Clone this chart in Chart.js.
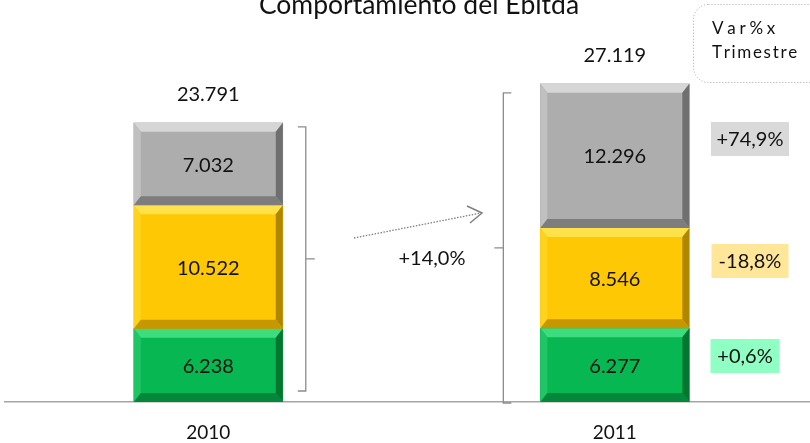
<!DOCTYPE html>
<html lang="es">
<head>
  <meta charset="UTF-8" />
  <title>Comportamiento del Ebitda</title>
  <script src="https://cdn.jsdelivr.net/npm/chart.js@4.4.1/dist/chart.umd.min.js"></script>
  <style>
    html,body{margin:0;padding:0;background:#fff;}
    #wrap{width:810px;height:443px;position:relative;}
  </style>
</head>
<body>
  <div id="wrap"><canvas id="chart"></canvas></div>

  <script>
    const years   = ['2010', '2011'];
    const green   = [6238, 6277];
    const yellow  = [10522, 8546];
    const grey    = [7032, 12296];
    const totals  = [23791, 27119];
    const varLbl  = ['+74,9%', '-18,8%', '+0,6%'];
    const growth  = '+14,0%';
    const title   = 'Comportamiento del Ebitda';

    const FONT = 'Lato, "Open Sans", sans-serif';
    const fmt = v => String(v).replace(/\B(?=(\d{3})+(?!\d))/g, '.');

    // bevel shades per dataset: [top, left, right, bottom]
    const bevel = [
      ['#3ddc7e', '#20c666', '#04762f', '#05873b'],
      ['#ffe24a', '#ffd21e', '#b08600', '#c69700'],
      ['#d6d6d6', '#c0c0c0', '#6f6f6f', '#7d7d7d']
    ];

    function bracket(ctx, x, y0, y1, dir){
      // dir 1 = opens to left (tick points right), -1 = opens right
      const h = 8*dir, mid = (y0+y1)/2;
      ctx.beginPath();
      ctx.moveTo(x-h, y0); ctx.lineTo(x, y0); ctx.lineTo(x, y1); ctx.lineTo(x-h, y1);
      ctx.moveTo(x, mid); ctx.lineTo(x+9*dir, mid);
      ctx.stroke();
    }

    function tagBox(ctx, txt, cx, cy, w, bg){
      ctx.fillStyle = bg;
      ctx.fillRect(cx-w/2, cy-17, w, 34);
      ctx.fillStyle = '#111';
      ctx.fillText(txt, cx, cy+1);
    }

    // letter-spaced text stretched to a given width
    function spaced(ctx, txt, x, y, w){
      const chars = [...txt];
      const sp = (w - ctx.measureText(txt).width) / (chars.length - 1);
      for(const ch of chars){ ctx.fillText(ch, x, y); x += ctx.measureText(ch).width + sp; }
    }

    const decor = {
      id:'decor',
      afterDatasetsDraw(chart){
        const ctx = chart.ctx;
        ctx.save();
        // bevels
        chart.data.datasets.forEach((ds, di) => {
          chart.getDatasetMeta(di).data.forEach(el => {
            const x0 = el.x - el.width/2, x1 = el.x + el.width/2;
            const t = Math.min(el.y, el.base), b = Math.max(el.y, el.base);
            const d = 9, s = 7;
            const [cT, cL, cR, cB] = bevel[di];
            const poly = (pts, c) => {
              ctx.fillStyle = c; ctx.beginPath();
              pts.forEach((p, i) => i ? ctx.lineTo(p[0], p[1]) : ctx.moveTo(p[0], p[1]));
              ctx.closePath(); ctx.fill();
            };
            poly([[x0,t],[x1,t],[x1-s,t+d],[x0+s,t+d]], cT);
            poly([[x0,t],[x0+s,t+d],[x0+s,b-d],[x0,b]], cL);
            poly([[x1,t],[x1,b],[x1-s,b-d],[x1-s,t+d]], cR);
            poly([[x0,b],[x1,b],[x1-s,b-d],[x0+s,b-d]], cB);
          });
        });

        // segment values
        ctx.font = '20px ' + FONT;
        ctx.textAlign = 'center';
        ctx.textBaseline = 'middle';
        ctx.fillStyle = '#111';
        chart.data.datasets.forEach((ds, di) => {
          chart.getDatasetMeta(di).data.forEach((el, i) => {
            ctx.fillText(fmt(ds.data[i].y), el.x, (el.y + el.base)/2 + 1);
          });
        });

        // totals
        const topMeta = chart.getDatasetMeta(2).data;
        totals.forEach((tot, i) => {
          ctx.fillText(fmt(tot), topMeta[i].x, topMeta[i].y - 28);
        });

        // brackets
        ctx.strokeStyle = '#8c8c8c';
        ctx.lineWidth = 1.3;
        const a = topMeta[0], bb = topMeta[1];
        const base = chart.scales.y.getPixelForValue(0);
        bracket(ctx, a.x + a.width/2 + 23, a.y + 4, base - 11, 1);
        bracket(ctx, bb.x - bb.width/2 - 37, bb.y + 9, base + 1, -1);

        // dotted arrow
        ctx.strokeStyle = '#7f7f7f';
        ctx.setLineDash([1.5, 1.5]);
        ctx.beginPath(); ctx.moveTo(354, 238); ctx.lineTo(481, 213); ctx.stroke();
        ctx.setLineDash([]);
        ctx.lineWidth = 1.5;
        ctx.beginPath(); ctx.moveTo(467, 206); ctx.lineTo(482, 213); ctx.lineTo(470, 223); ctx.stroke();

        ctx.fillStyle = '#111';
        ctx.fillText(growth, 432, 259);

        // variation tags
        tagBox(ctx, varLbl[0], 750, 139, 78, '#d9d9d9');
        tagBox(ctx, varLbl[1], 750, 261, 77, '#ffe699');
        tagBox(ctx, varLbl[2], 745, 356, 69, '#8fffc4');

        // title (clipped at top)
        ctx.font = '26.5px ' + FONT;
        ctx.textBaseline = 'alphabetic';
        ctx.fillText(title, 419, 14);

        // Var% box
        ctx.strokeStyle = '#a6a6a6';
        ctx.lineWidth = 1;
        ctx.setLineDash([1, 2]);
        ctx.beginPath();
        ctx.roundRect(693.5, 4.5, 140, 78, 15);
        ctx.stroke();
        ctx.setLineDash([]);
        ctx.font = '17px ' + FONT;
        ctx.textAlign = 'left';
        spaced(ctx, 'Var%x', 712, 34, 62);
        spaced(ctx, 'Trimestre', 712, 58, 83);
        ctx.restore();
      }
    };

    const pts = arr => arr.map((v, i) => ({x:i, y:v}));

    new Chart(document.getElementById('chart'), {
      type:'bar',
      data:{
        datasets:[
          {label:'A', data:pts(green),  backgroundColor:'#07b852'},
          {label:'B', data:pts(yellow), backgroundColor:'#ffc805'},
          {label:'C', data:pts(grey),   backgroundColor:'#adadad'}
        ]
      },
      options:{
        responsive:true,
        maintainAspectRatio:false,
        animation:false,
        barThickness:149,
        layout:{padding:{left:5, right:0, top:50, bottom:0}},
        plugins:{legend:{display:false}, tooltip:{enabled:false}},
        scales:{
          x:{
            type:'linear', stacked:true, offset:false, min:-0.5, max:1.48,
            afterBuildTicks:s => { s.ticks = years.map((_, i) => ({value:i})); },
            afterFit:s => { s.height = 41; },
            grid:{display:false, drawTicks:false},
            border:{display:true, color:'#a6a6a6', width:1.5},
            ticks:{callback:v => years[v], color:'#111', font:{family:FONT, size:19}, padding:19, maxRotation:0}
          },
          y:{
            display:false, stacked:true, min:0, max:30000
          }
        }
      },
      plugins:[decor]
    });
  </script>
</body>
</html>
